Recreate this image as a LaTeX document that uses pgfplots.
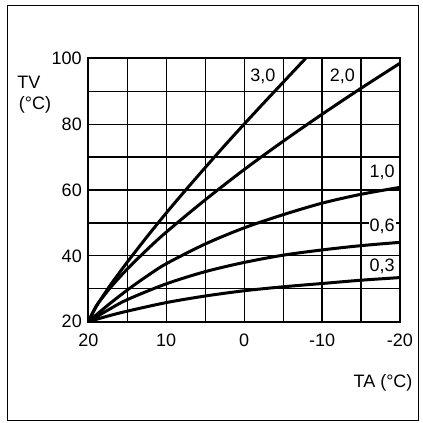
\documentclass[border=0pt]{standalone}
\usepackage{fontspec}
\setmainfont{Liberation Sans}
\usepackage{pgfplots}
\pgfplotsset{compat=1.18}
\begin{document}
\begin{tikzpicture}
\useasboundingbox (0,0) rectangle (423pt,423pt);
\draw[line width=1pt] (7pt,2pt) rectangle (418pt,417pt);
\begin{axis}[
  at={(88.3pt,101.3pt)}, anchor=south west,
  scale only axis, width=311.7pt, height=263.4pt,
  xmin=-20, xmax=20, ymin=20, ymax=100,
  x dir=reverse,
  xtick={-20,-10,0,10,20},
  xticklabels={-20,-10,0,10,20},
  minor xtick={-15,-5,5,15},
  ytick={20,40,60,80,100},
  minor ytick={30,50,70,90},
  grid=both,
  major grid style={black, line width=1.2pt},
  minor grid style={black, line width=1.2pt},
  major tick length=0pt, minor tick length=0pt,
  axis line style={line width=2.2pt},
  tick label style={font=\fontsize{18}{18}\selectfont},
  /pgf/number format/assume math mode=true,
  xticklabel style={yshift=-9pt},
  yticklabel style={xshift=-3pt},
  clip=false,
]
\addplot[black, line width=3pt, smooth] coordinates {(20,20)(19,24.5)(18,28.2)(17,31.7)(16,34.9)(15,38.1)(12.5,45.7)(10,53)(7.5,60)(5,66.8)(2.5,73.5)(0,80)(-2.5,86.4)(-5,92.7)(-7.9,100)};
\addplot[black, line width=3pt, smooth] coordinates {(20,20)(19,24.7)(18,27.9)(17,30.8)(15,36)(12.5,41.8)(10,47.2)(5,57)(0,66.2)(-5,74.8)(-10,83)(-15,90.9)(-20,98.5)};
\addplot[black, line width=3pt, smooth] coordinates {(20,20)(17.5,25)(15,29.6)(12.5,33.8)(10,37.6)(5,43.6)(0,48.5)(-5,52.5)(-10,56)(-15,58.7)(-20,60.8)};
\addplot[black, line width=3pt, smooth] coordinates {(20,20)(17.5,23.5)(15,26.7)(10,31.5)(5,35.2)(0,38)(-5,40.2)(-10,41.8)(-15,43.1)(-20,44.1)};
\addplot[black, line width=3pt, smooth] coordinates {(20,20)(17.5,21.7)(15,23.2)(10,25.8)(5,27.8)(0,29.4)(-5,30.6)(-10,31.6)(-15,32.6)(-20,33.4)};
\begin{scope}[every node/.style={fill=white, inner sep=1pt, font=\fontsize{18}{18}\selectfont}]
\node at (axis cs:-2.4,94.4) {3,0};
\node at (axis cs:-12.6,94.4) {2,0};
\node at (axis cs:-17.7,65.3) {1,0};
\node at (axis cs:-17.7,49.1) {0,6};
\node at (axis cs:-17.7,36.7) {0,3};
\end{scope}
\end{axis}
\node[font=\fontsize{18}{18}\selectfont] at (29pt,341pt) {TV};
\node[font=\fontsize{18}{18}\selectfont] at (35pt,318pt) {(°C)};
\node[font=\fontsize{18}{18}\selectfont, anchor=east] at (416pt,40pt) {TA (°C)};
\end{tikzpicture}
\end{document}
